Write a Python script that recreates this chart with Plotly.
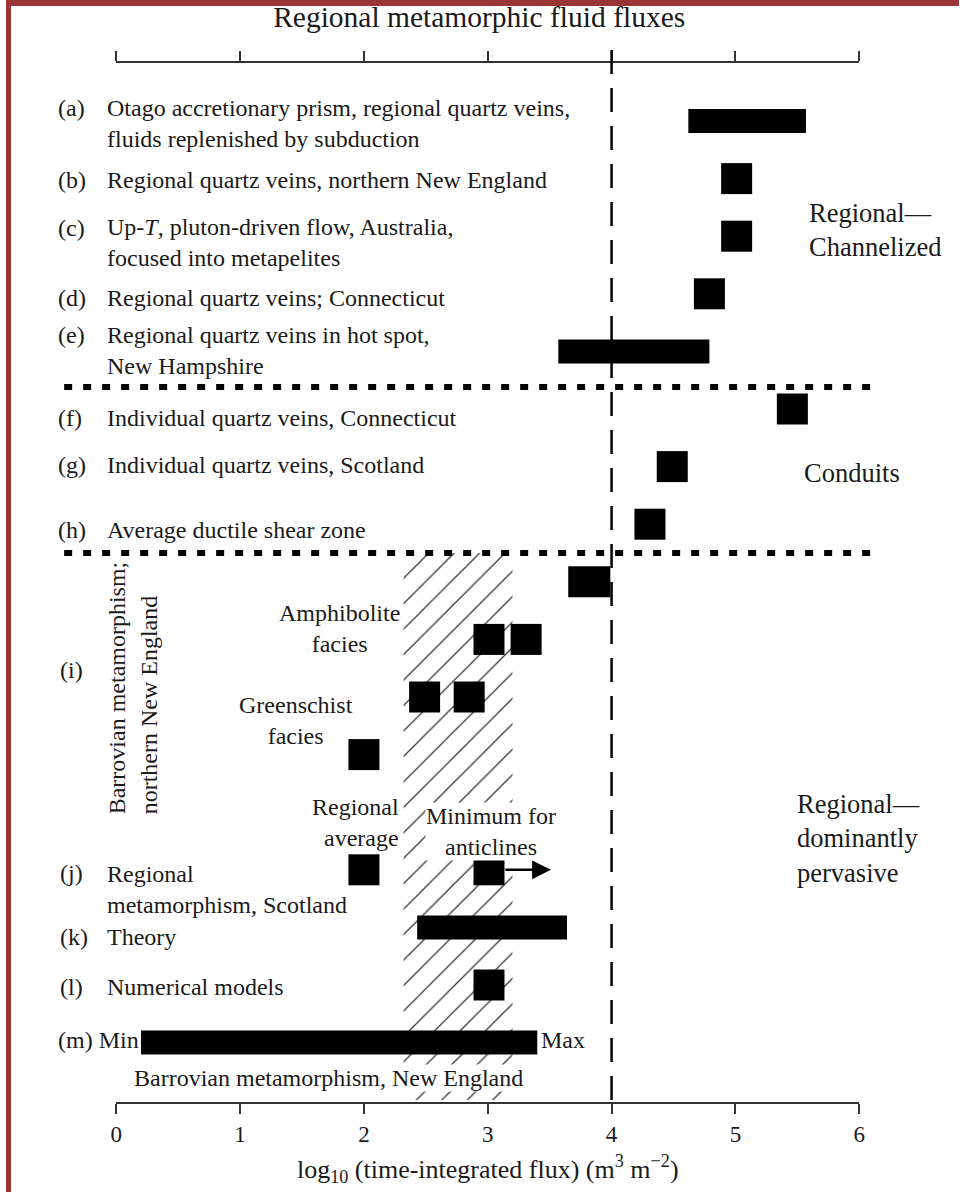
import plotly.graph_objects as go

# ---- data (log10 time-integrated flux, m3 m-2) ----
# rows: 0=(a) ... 7=(h), 8-11 = (i) sub rows, 13=(j), 14=(k), 15=(l), 16=(m)
range_rows = [0, 4, 14, 16]          # (a), (e), (k), (m)
range_lo = [4.62, 3.57, 2.43, 0.20]
range_hi = [5.57, 4.79, 3.64, 3.40]

box_rows = [8]                       # (i) top estimate
box_lo = [3.65]
box_hi = [3.99]

square_rows = [1, 2, 3, 5, 6, 7, 9, 9, 10, 10, 11, 13, 13, 15]
square_x = [5.01, 5.01, 4.79, 5.46, 4.49, 4.31, 3.01, 3.31, 2.49, 2.85, 2.00, 2.00, 3.01, 3.01]

hatch_lo, hatch_hi = 2.32, 3.20      # minimum for anticlines band
threshold = 4                        # channelized / pervasive limit
arrow_from, arrow_to, arrow_row = 3.13, 3.51, 13

tick_vals = [0, 1, 2, 3, 4, 5, 6]

W, H = 965, 1192
FONT = "Liberation Serif"
INK = "#1a1a1a"

# the photographed page comes out a little squeezed sideways, so horizontal
# targets are mapped back through that
SQ, SHIFT = 0.985, 7


def px(p):
    return (p - SHIFT) / SQ / W


def py(p):
    return 1 - p / H


# rows -> pixels : 121 + 57.6 * row
ROW0, ROWH = 121, 57.6


def row_of(p):
    return (p - ROW0) / ROWH


fig = go.Figure()

# hatched band
fig.add_trace(go.Bar(
    orientation="h", y=[(7.5 + row_of(1100)) / 2], base=[hatch_lo],
    x=[hatch_hi - hatch_lo], width=[row_of(1100) - 7.5],
    marker=dict(color="white", line=dict(width=0),
                pattern=dict(shape="/", fgcolor="#333", bgcolor="white",
                             size=18, solidity=0.07, fillmode="replace")),
    hoverinfo="skip"))

# ranges
fig.add_trace(go.Bar(
    orientation="h", y=range_rows, base=range_lo,
    x=[h - l for l, h in zip(range_lo, range_hi)],
    width=24 / ROWH, marker=dict(color="black", line=dict(width=0))))

fig.add_trace(go.Bar(
    orientation="h", y=box_rows, base=box_lo,
    x=[h - l for l, h in zip(box_lo, box_hi)],
    width=31 / ROWH, marker=dict(color="black", line=dict(width=0))))

# point estimates
fig.add_trace(go.Scatter(
    x=square_x, y=square_rows, mode="markers",
    marker=dict(symbol="square", size=31, color="black", line=dict(width=0))))

# dummy trace so the top axis is drawn
fig.add_trace(go.Scatter(x=[0], y=[-1], xaxis="x2", mode="markers",
                         marker=dict(opacity=0), hoverinfo="skip"))

ann = []


def label(text, x, y, xanchor="left", size=24, align="left", **kw):
    ann.append(dict(text=text, x=px(x), y=py(y), xref="paper", yref="paper",
                    xanchor=xanchor, yanchor="middle", showarrow=False,
                    align=align, font=dict(family=FONT, size=size, color=INK),
                    borderpad=0, **kw))


letters = [("(a)", 58, 108), ("(b)", 58, 180), ("(c)", 58, 228), ("(d)", 58, 298),
           ("(e)", 58, 335), ("(f)", 58, 418), ("(g)", 58, 465), ("(h)", 58, 530),
           ("(i)", 60, 670), ("(j)", 60, 873), ("(k)", 60, 937), ("(l)", 60, 987)]
for t, x, y in letters:
    label(t, x, y)

descr = [
    ("Otago accretionary prism, regional quartz veins,<br>fluids replenished by subduction", 123),
    ("Regional quartz veins, northern New England", 180),
    ("Up-<i>T</i>, pluton-driven flow, Australia,<br>focused into metapelites", 243),
    ("Regional quartz veins; Connecticut", 298),
    ("Regional quartz veins in hot spot,<br>New Hampshire", 350),
    ("Individual quartz veins, Connecticut", 418),
    ("Individual quartz veins, Scotland", 465),
    ("Average ductile shear zone", 530),
    ("Regional<br>metamorphism, Scotland", 889),
    ("Theory", 937),
    ("Numerical models", 987),
]
for t, y in descr:
    label(t, 107, y)

label("(m) Min", 141, 1040, xanchor="right")
label("Max", 540, 1040)
label("Barrovian metamorphism, New England", 329, 1078, xanchor="center",
      bgcolor="white")
label("Amphibolite<br>facies", 340, 628, xanchor="center", align="center")
label("Greenschist<br>facies", 296, 720, xanchor="center", align="center")
label("Regional<br>average", 400, 822, xanchor="right", align="right",
      bgcolor="white")
label("Minimum for<br>anticlines", 491, 831, xanchor="center", align="center",
      bgcolor="white")

label("Regional—<br>Channelized", 807, 230, size=26.5)
label("Conduits", 802, 473, size=26.5)
label("Regional—<br>dominantly<br>pervasive", 795, 838, size=26.5)

ann.append(dict(text="Barrovian metamorphism;<br>northern New England",
                x=px(133), y=py(688), xref="paper", yref="paper",
                xanchor="center", yanchor="middle", textangle=-90,
                showarrow=False, align="left", borderpad=0,
                font=dict(family=FONT, size=24, color=INK)))

# arrow: minimum for anticlines
ann.append(dict(x=arrow_to, y=arrow_row, ax=arrow_from, ay=arrow_row,
                xref="x", yref="y", axref="x", ayref="y", text="",
                showarrow=True, arrowhead=2, arrowsize=1.5, arrowwidth=2.5,
                arrowcolor="black"))

shapes = [
    # threshold line
    dict(type="line", xref="x", yref="paper", x0=threshold, x1=threshold,
         y0=py(50), y1=py(1113), line=dict(color="black", width=2.5, dash="24px,14px")),
    # group separators
    dict(type="line", xref="paper", yref="y", x0=px(65), x1=px(877),
         y0=row_of(387), y1=row_of(387), line=dict(color="black", width=6, dash="8px,11px")),
    dict(type="line", xref="paper", yref="y", x0=px(65), x1=px(877),
         y0=7.5, y1=7.5, line=dict(color="black", width=6, dash="8px,11px")),
    # page border
    dict(type="rect", xref="paper", yref="paper", x0=0, x1=px(12), y0=0, y1=1,
         fillcolor="#9b3535", line=dict(width=0), layer="above"),
    dict(type="rect", xref="paper", yref="paper", x0=0, x1=1, y0=py(6), y1=1,
         fillcolor="#9b3535", line=dict(width=0), layer="above"),
]

axis_common = dict(domain=[px(117), px(858)], range=[0, 6], tickvals=tick_vals,
                   ticks="outside", ticklen=10, tickwidth=2, tickcolor="#333",
                   showline=True, linewidth=2, linecolor="#333",
                   showgrid=False, zeroline=False, anchor="free")

fig.update_layout(
    width=W, height=H,
    margin=dict(l=0, r=0, t=0, b=0),
    paper_bgcolor="white", plot_bgcolor="white",
    showlegend=False, barmode="overlay",
    title=dict(text="Regional metamorphic fluid fluxes", x=px(479), xanchor="center",
               y=py(17), yanchor="middle", font=dict(family=FONT, size=29.5, color=INK)),
    xaxis=dict(**axis_common, position=py(1103),
               tickfont=dict(family=FONT, size=23, color=INK),
               title=dict(text="log<sub>10</sub> (time-integrated flux) (m<sup>3</sup> m<sup>−2</sup>)",
                          font=dict(family=FONT, size=26, color=INK), standoff=13)),
    xaxis2=dict(**axis_common, position=py(62), side="top", overlaying="x",
                showticklabels=False),
    yaxis=dict(domain=[0, 1], range=[row_of(H), row_of(0)], visible=False),
    annotations=ann,
    shapes=shapes,
)

# page has no body margin so the figure sits flush in the window
fig.write_html("out.html", config={"displayModeBar": False},
               post_script="document.body.style.margin='0';")
